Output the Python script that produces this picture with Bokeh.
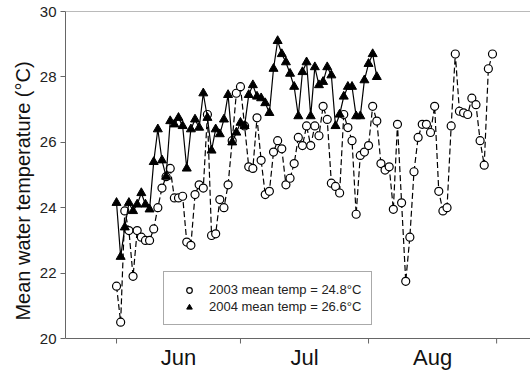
import math
from bokeh.plotting import figure
from bokeh.models import Range1d, FixedTicker, Span, Legend, LegendItem
from bokeh.core.properties import value
from bokeh.embed import file_html
from bokeh.resources import INLINE

# Day index: 0 = 1 June
days_2003 = list(range(92))
temp_2003 = [21.6, 20.5, 23.9, 23.3, 21.9, 23.3, 23.1, 23.0, 23.0, 23.35,
             24.0, 24.6, 24.95, 25.2, 24.3, 24.3, 24.35, 22.95, 22.85, 24.4,
             24.7, 24.6, 26.85, 23.15, 23.2, 24.25, 24.0, 24.7, 26.05, 27.5,
             27.7, 26.5, 25.25, 25.2, 26.75, 25.45, 24.4, 24.5, 25.7, 26.05,
             25.8, 24.7, 24.9, 25.35, 26.15, 25.9, 26.5, 25.9, 26.5, 26.2,
             27.1, 26.7, 24.75, 24.65, 24.45, 26.85, 26.45, 26.05, 23.8, 25.6,
             25.7, 25.9, 27.1, 26.65, 25.35, 25.15, 25.25, 23.95, 26.55, 24.15,
             21.75, 23.1, 25.1, 26.15, 26.55, 26.55, 26.3, 27.1, 24.5, 23.9,
             24.0, 26.5, 28.7, 26.95, 26.9, 26.85, 27.35, 27.15, 26.05, 25.3,
             28.25, 28.7]

days_2004 = list(range(64))
temp_2004 = [24.15, 22.5, 23.4, 24.15, 23.9, 24.1, 24.45, 24.1, 23.95, 25.4,
             26.4, 25.45, 24.95, 26.65, 26.55, 26.75, 26.5, 25.2, 26.4, 26.7,
             26.45, 27.5, 26.75, 25.75, 26.4, 26.25, 26.7, 27.45, 26.0, 26.3,
             26.6, 26.5, 27.45, 27.75, 27.4, 27.35, 27.2, 26.9, 28.25, 29.1,
             28.7, 28.45, 28.1, 27.7, 26.8, 28.15, 28.45, 26.8, 28.3, 27.75,
             27.85, 28.3, 28.05, 26.5, 26.85, 27.4, 27.7, 27.7, 26.8, 26.8,
             27.9, 28.4, 28.7, 28.0]

month_starts = [0, 30, 61, 92]
month_names = ["Jun", "Jul", "Aug"]
month_mids = [15, 45.5, 76.5]
y_ticks = [20, 22, 24, 26, 28, 30]
legend_labels = ["2003 mean temp = 24.8\u00b0C", "2004 mean temp = 26.6\u00b0C"]
y_label = "Mean water temperature (\u00b0C)"

FONT = "Liberation Sans"
AXC = "#666666"

# layout (pixels)
W, H = 530, 370
LEFT = 65
TOP = 11                # frame top below figure top
AXIS_PX = 327           # pixels between y=20 and y=30
Y_MIN, Y_MAX = 20, 30
px_per_unit = AXIS_PX / (Y_MAX - Y_MIN)
below_px = H - TOP - AXIS_PX          # room under the x axis line (inside frame)
y_lo = Y_MIN - below_px / px_per_unit
label_gap_px = 6
label_y = Y_MIN - label_gap_px / px_per_unit
legend_bottom_px = 325

p = figure(width=W, height=H, output_backend="svg", toolbar_location=None,
           x_axis_location=None,
           x_range=Range1d(-12.35, 100.2), y_range=Range1d(y_lo, Y_MAX),
           min_border_left=LEFT, min_border_right=0, min_border_top=TOP,
           min_border_bottom=0)
p.xgrid.visible = False
p.ygrid.visible = False
p.outline_line_color = None
p.background_fill_color = "white"
p.border_fill_color = "white"

# y axis
ya = p.yaxis[0]
ya.bounds = (Y_MIN, Y_MAX)
ya.ticker = FixedTicker(ticks=y_ticks)
ya.major_tick_out = 5
ya.major_tick_in = 0
ya.major_tick_line_color = AXC
ya.minor_tick_line_color = None
ya.axis_line_color = AXC
ya.major_label_text_font = FONT
ya.major_label_text_font_size = "15px"
ya.major_label_text_color = "#222222"
ya.major_label_standoff = 4
ya.axis_label = y_label
ya.axis_label_text_font = FONT
ya.axis_label_text_font_size = "20px"
ya.axis_label_text_font_style = "normal"
ya.axis_label_text_color = "#111111"
ya.axis_label_standoff = 3

# frame lines: top border and x axis line
p.add_layout(Span(location=Y_MAX, dimension="width", line_color="#777777", line_width=1))
p.add_layout(Span(location=Y_MIN, dimension="width", line_color=AXC, line_width=1))

# x axis ticks at month boundaries and month names
p.ray(x=month_starts, y=[Y_MIN] * len(month_starts), length=5, length_units="screen",
      angle=-math.pi / 2, line_color=AXC, line_width=1)
p.text(x=month_mids, y=[label_y] * len(month_mids), text=month_names,
       text_font=value(FONT), text_font_size="22px", text_align="center",
       text_baseline="top", text_color="#111111")

# 2003
p.line(days_2003, temp_2003, line_color="black", line_width=1.2, line_dash="6 3")
c03 = p.scatter(days_2003, temp_2003, marker="circle", size=8,
                fill_color="white", line_color="black", line_width=1.2)
# 2004
p.line(days_2004, temp_2004, line_color="black", line_width=1.2)
t04 = p.scatter(days_2004, temp_2004, marker="triangle", size=9,
                fill_color="black", line_color="black", line_width=1)

legend = Legend(items=[LegendItem(label=legend_labels[0], renderers=[c03]),
                       LegendItem(label=legend_labels[1], renderers=[t04])],
                location=(98, H - legend_bottom_px), padding=10, margin=0, spacing=2,
                glyph_width=30, glyph_height=14, label_height=14,
                label_standoff=5, label_text_font=FONT,
                label_text_font_size="13px", label_text_color="#222222",
                border_line_color="#555555", border_line_width=1,
                background_fill_color="white", background_fill_alpha=1)
p.add_layout(legend)

open("out.html", "w").write(file_html(p, INLINE))
